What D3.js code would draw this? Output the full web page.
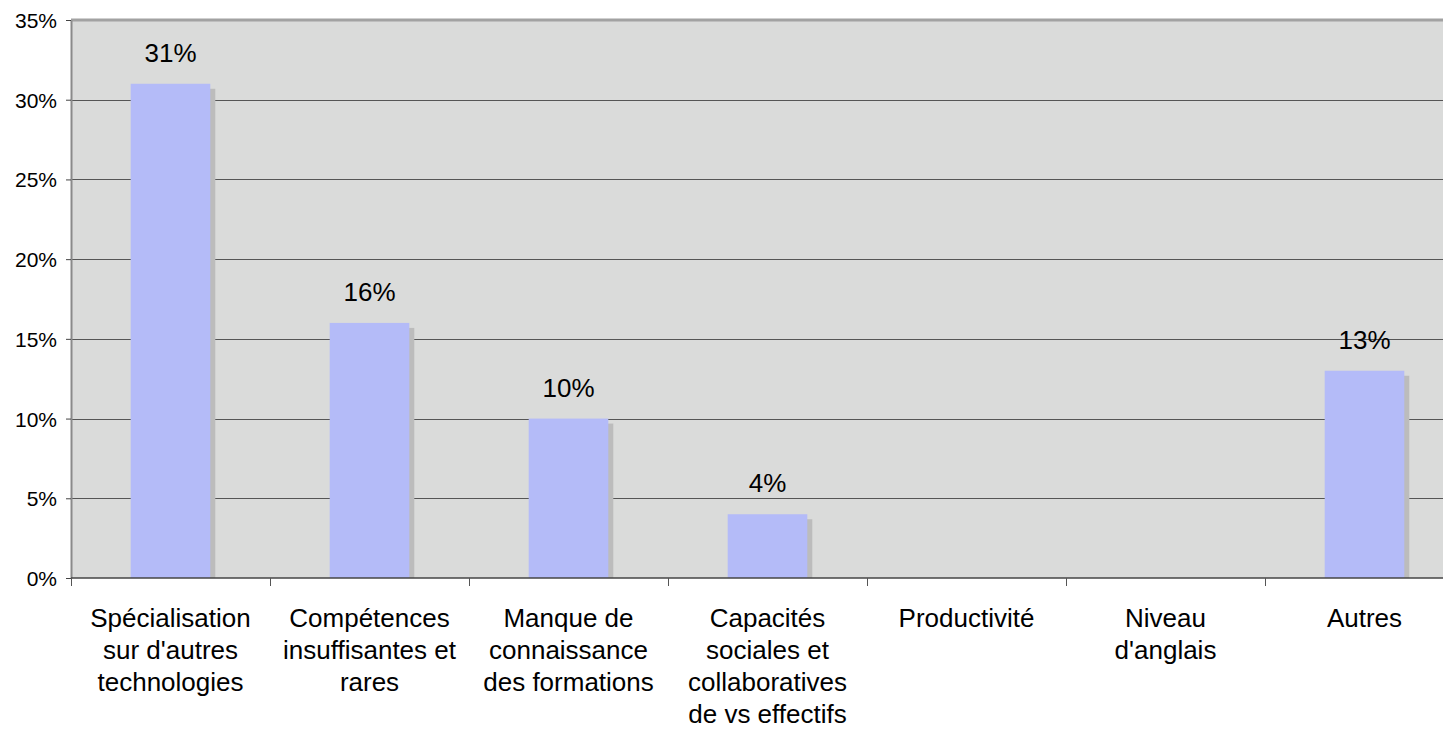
<!DOCTYPE html>
<html lang="fr">
  <head>
    <meta charset="UTF-8" />
    <title>Compétences</title>
    <style>
      * {
        margin: 0;
        padding: 0;
      }
      body {
        background: #fff;
        overflow: hidden;
      }
      text {
        font-family: 'Liberation Sans', Arial, Helvetica, sans-serif;
        fill: #000;
      }
    </style>
  </head>
  <body>
    <script src="https://cdn.jsdelivr.net/npm/d3@7/dist/d3.min.js"></script>
    <script>
      // données
      const categories = [
        ['Spécialisation', "sur d'autres", 'technologies'],
        ['Compétences', 'insuffisantes et', 'rares'],
        ['Manque de', 'connaissance', 'des formations'],
        ['Capacités', 'sociales et', 'collaboratives', 'de vs effectifs'],
        ['Productivité'],
        ['Niveau', "d'anglais"],
        ['Autres']
      ]
      const values = [0.31, 0.16, 0.1, 0.04, null, null, 0.13]
      const yTicks = [0, 0.05, 0.1, 0.15, 0.2, 0.25, 0.3, 0.35]

      const width = 1443
      const height = 733
      const plotLeft = 71
      const plotTop = 20
      const plotBottom = 578
      const band = 199

      const svg = d3
        .select('body')
        .append('svg')
        .attr('width', width)
        .attr('height', height)

      const x = d3
        .scaleBand()
        .domain(d3.range(categories.length))
        .range([plotLeft, plotLeft + band * categories.length])
        .paddingInner(0.6)
        .paddingOuter(0.3)

      const y = d3.scaleLinear().domain([0, 0.35]).range([plotBottom, plotTop])

      // fond du graphique
      svg
        .append('rect')
        .attr('x', plotLeft)
        .attr('y', plotTop)
        .attr('width', band * categories.length)
        .attr('height', plotBottom - plotTop)
        .attr('fill', '#dadbda')

      // bordure du haut
      svg
        .append('line')
        .attr('x1', plotLeft)
        .attr('x2', width)
        .attr('y1', plotTop)
        .attr('y2', plotTop)
        .attr('stroke', '#a2a2a2')
        .attr('stroke-width', 3)

      // lignes de grille
      svg
        .append('g')
        .selectAll('line')
        .data(yTicks.slice(1, -1))
        .join('line')
        .attr('x1', plotLeft)
        .attr('x2', width)
        .attr('y1', (d) => Math.round(y(d)) + 0.5)
        .attr('y2', (d) => Math.round(y(d)) + 0.5)
        .attr('stroke', '#555')
        .attr('stroke-width', 1)

      const data = values
        .map((v, i) => ({ i, v }))
        .filter((d) => d.v != null)

      // ombres
      svg
        .append('g')
        .selectAll('rect')
        .data(data)
        .join('rect')
        .attr('x', (d) => x(d.i) + 5)
        .attr('y', (d) => y(d.v) + 5)
        .attr('width', x.bandwidth())
        .attr('height', (d) => plotBottom - y(d.v) - 5)
        .attr('fill', '#bcbcbc')

      // barres
      svg
        .append('g')
        .selectAll('rect')
        .data(data)
        .join('rect')
        .attr('x', (d) => x(d.i))
        .attr('y', (d) => y(d.v))
        .attr('width', x.bandwidth())
        .attr('height', (d) => plotBottom - y(d.v))
        .attr('fill', '#b4bbf8')

      // étiquettes de valeur
      svg
        .append('g')
        .selectAll('text')
        .data(data)
        .join('text')
        .attr('x', (d) => x(d.i) + x.bandwidth() / 2)
        .attr('y', (d) => y(d.v) - 22)
        .attr('text-anchor', 'middle')
        .attr('font-size', 26)
        .text((d) => Math.round(d.v * 100) + '%')

      // axe Y
      const yAxis = svg
        .append('g')
        .attr('transform', `translate(${plotLeft},0)`)
        .call(
          d3
            .axisLeft(y)
            .tickValues(yTicks)
            .tickFormat((d) => Math.round(d * 100) + '%')
            .tickSize(5)
            .tickPadding(9)
            .tickSizeOuter(0)
        )
      yAxis.select('.domain').attr('stroke', '#8a8a8a').attr('stroke-width', 2)
      yAxis.selectAll('.tick line').attr('stroke', '#444')
      yAxis
        .selectAll('.tick text')
        .attr('font-size', 21)
        .attr('dy', '0.36em')
        .attr('font-family', "'Liberation Sans', Arial, sans-serif")
        .attr('fill', '#000')

      // axe X
      const xTicks = d3.range(categories.length + 1).map((i) => plotLeft + i * band)
      svg
        .append('line')
        .attr('x1', plotLeft)
        .attr('x2', width)
        .attr('y1', plotBottom)
        .attr('y2', plotBottom)
        .attr('stroke', '#444')
        .attr('stroke-width', 1.5)
      svg
        .append('g')
        .selectAll('line')
        .data(xTicks)
        .join('line')
        .attr('x1', (d) => d + 0.5)
        .attr('x2', (d) => d + 0.5)
        .attr('y1', plotBottom)
        .attr('y2', plotBottom + 8)
        .attr('stroke', '#555')

      // étiquettes de catégories
      const labels = svg
        .append('g')
        .selectAll('text')
        .data(categories)
        .join('text')
        .attr('text-anchor', 'middle')
        .attr('font-size', 26)
        .attr('x', (d, i) => plotLeft + band * i + band / 2)
        .attr('y', 627)

      labels
        .selectAll('tspan')
        .data((d) => d)
        .join('tspan')
        .attr('x', function () {
          return this.parentNode.getAttribute('x')
        })
        .attr('dy', (d, i) => (i === 0 ? 0 : 32))
        .text((d) => d)
    </script>
  </body>
</html>
